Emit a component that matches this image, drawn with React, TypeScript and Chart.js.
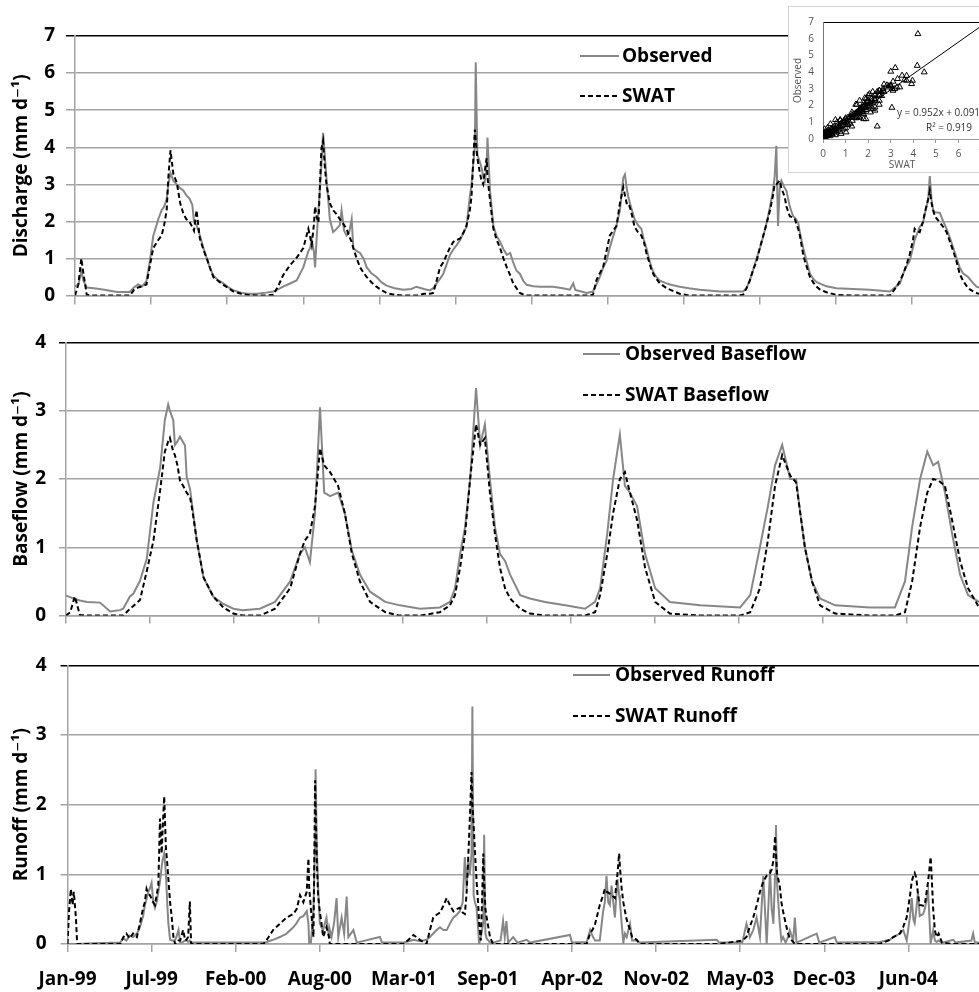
import React, { useEffect, useRef } from 'react';
import { Chart, registerables } from 'chart.js';
Chart.register(...registerables);

const FONT = '"Open Sans", "DejaVu Sans", sans-serif';
const OBS_COLOR = '#878787';
const SWAT_COLOR = '#000000';
const GRID = '#a3a3a3';

// ---------- Discharge (top panel), days since 1 Jan 1999 ----------
const Q_DAYS = [0,8,15,20,28,45,70,100,130,140,150,160,170,178,186,198,206,212,218,222,227,234,242,250,258,265,272,279,283,289,297,305,313,321,329,340,353,365,377,395,410,432,455,472,485,495,510,527,543,555,559,563,568,571,575,579,586,590,594,598,606,614,622,630,634,640,646,652,658,662,670,678,686,694,705,717,730,741,760,781,800,812,830,844,852,860,868,876,884,892,900,908,916,924,931,939,943,947,951,953,957,963,967,971,975,979,981,987,995,1003,1011,1019,1027,1035,1042,1050,1058,1066,1074,1090,1106,1137,1160,1177,1185,1190,1217,1232,1240,1248,1256,1264,1272,1280,1288,1296,1304,1308,1312,1316,1322,1331,1339,1347,1353,1359,1365,1371,1377,1383,1391,1407,1415,1438,1460,1486,1534,1570,1589,1597,1605,1613,1621,1629,1637,1645,1653,1660,1664,1668,1672,1676,1680,1688,1692,1700,1708,1712,1720,1724,1732,1736,1748,1756,1764,1771,1787,1811,1850,1890,1938,1954,1962,1970,1978,1985,1993,1997,2001,2009,2017,2021,2029,2033,2037,2041,2045,2057,2065,2073,2081,2089,2097,2104,2112,2124,2135,2144,2155];
const Q_OBS = [0.25,0.3,0.65,0.4,0.22,0.2,0.16,0.1,0.1,0.22,0.3,0.25,0.4,0.93,1.6,2.06,2.3,2.4,2.6,3.0,3.3,3.1,3.0,2.9,2.83,2.7,2.62,2.45,2.0,1.9,1.62,1.3,1.02,0.75,0.54,0.42,0.33,0.22,0.14,0.08,0.05,0.05,0.08,0.11,0.18,0.24,0.32,0.41,0.76,1.2,1.28,1.5,1.2,0.76,1.6,2.3,3.5,4.39,3.8,3.18,2.06,1.71,1.8,1.9,2.3,1.75,1.62,1.7,2.06,1.28,1.2,1.15,1.0,0.76,0.6,0.5,0.35,0.27,0.2,0.16,0.18,0.24,0.18,0.14,0.2,0.33,0.45,0.59,0.85,1.1,1.25,1.37,1.5,1.7,1.85,2.66,3.0,3.53,4.0,6.29,3.79,3.6,3.44,3.2,3.1,3.5,4.26,2.83,1.88,1.6,1.45,1.25,1.1,1.15,0.9,0.67,0.59,0.4,0.29,0.25,0.24,0.24,0.2,0.16,0.33,0.15,0.07,0.11,0.3,0.5,0.75,0.93,1.3,1.6,1.9,2.3,3.18,3.27,2.9,2.66,2.4,2.06,1.9,1.8,1.5,1.28,1.0,0.76,0.6,0.5,0.4,0.33,0.3,0.24,0.2,0.16,0.11,0.11,0.11,0.2,0.41,0.7,1.0,1.28,1.6,1.97,2.4,2.83,3.2,4.04,1.88,2.9,3.1,2.9,2.83,2.4,2.14,2.1,1.97,1.7,1.28,1.1,0.59,0.45,0.36,0.33,0.25,0.2,0.18,0.16,0.11,0.25,0.33,0.6,0.8,0.93,1.3,1.5,1.62,1.85,1.97,2.2,2.58,3.22,2.6,2.3,2.25,2.23,2.0,1.8,1.55,1.28,1.0,0.76,0.6,0.5,0.35,0.24,0.2];
const Q_SWAT = [0,0.3,1.0,0.6,0.02,0,0,0,0,0.15,0.22,0.25,0.3,0.8,1.28,1.5,1.62,1.9,2.3,3.18,3.92,3.27,3.05,2.5,2.2,2.06,2.0,1.85,1.75,2.3,1.54,1.25,1.02,0.75,0.5,0.4,0.29,0.2,0.11,0.05,0.02,0,0,0.02,0.3,0.55,0.8,1.02,1.28,1.8,1.6,1.37,1.9,2.4,2.1,1.97,3.96,4.17,3.5,3.0,2.49,2.3,2.2,2.06,2.0,1.9,1.8,1.6,1.45,1.28,1.0,0.76,0.62,0.5,0.36,0.24,0.14,0.07,0.02,0,0,0,0.05,0.05,0.07,0.4,0.76,0.9,1.1,1.3,1.45,1.5,1.54,1.7,1.88,2.3,2.66,3.6,4.48,4.2,3.7,3.3,3.1,3.0,3.4,3.7,3.2,2.58,1.8,1.5,1.28,1.0,0.76,0.55,0.33,0.2,0.07,0.03,0,0,0,0,0,0,0,0,0,0.02,0.41,0.6,0.76,1.2,1.62,1.75,1.88,2.49,2.92,2.7,2.49,2.5,2.3,1.85,1.71,1.62,1.45,1.15,0.93,0.7,0.55,0.45,0.33,0.2,0.16,0.05,0,0,0,0,0.02,0.2,0.41,0.7,0.93,1.3,1.62,1.95,2.3,2.7,3.0,3.0,3.05,3.1,2.9,2.66,2.4,2.14,2.1,2.06,1.8,1.62,1.1,0.93,0.5,0.35,0.24,0.17,0.09,0.02,0,0,0,0.24,0.4,0.59,0.85,1.1,1.5,1.8,1.75,1.71,2.0,2.23,2.6,2.83,2.5,2.3,2.14,1.97,1.85,1.71,1.45,1.19,0.9,0.59,0.4,0.2,0.12,0.07,0.03];

// ---------- Baseflow (middle panel) ----------
const BF_DAYS = [0,10,21,33,50,81,105,128,136,152,160,176,192,208,224,235,243,247,255,259,265,271,283,287,295,299,311,327,350,374,398,420,461,497,533,556,568,580,592,604,614,628,647,663,680,699,723,759,794,842,889,913,925,937,949,961,975,985,996,1008,1020,1032,1044,1056,1080,1103,1139,1187,1234,1258,1270,1287,1301,1317,1329,1341,1358,1377,1401,1436,1508,1603,1627,1650,1669,1686,1703,1722,1736,1746,1757,1774,1793,1829,1912,1971,1995,2012,2031,2048,2062,2074,2090,2107,2126,2145,2171];
const BF_OBS = [0.29,0.27,0.24,0.22,0.2,0.19,0.06,0.08,0.1,0.28,0.32,0.51,0.83,1.66,2.17,2.86,3.09,3.0,2.86,2.5,2.55,2.62,2.49,2.03,1.85,1.66,1.1,0.56,0.28,0.17,0.1,0.08,0.1,0.2,0.5,0.9,1.0,0.78,1.5,3.05,1.8,1.75,1.8,1.5,0.95,0.6,0.35,0.2,0.15,0.1,0.12,0.2,0.4,0.9,1.3,2.0,3.33,2.5,2.8,2.0,1.3,0.9,0.8,0.6,0.3,0.25,0.2,0.15,0.1,0.2,0.4,1.2,2.0,2.65,1.9,1.8,1.6,0.9,0.4,0.2,0.15,0.12,0.3,1.0,1.6,2.2,2.5,2.0,2.0,1.5,1.0,0.5,0.25,0.15,0.12,0.12,0.5,1.3,2.0,2.4,2.2,2.25,1.8,1.2,0.6,0.3,0.2];
const BF_SWAT = [0,0.05,0.28,0.01,0,0,0,0,0,0.1,0.14,0.23,0.65,1.1,1.84,2.4,2.55,2.6,2.4,2.35,2.2,1.98,1.85,1.8,1.73,1.6,1.1,0.56,0.28,0.12,0.03,0,0,0.1,0.4,0.9,1.1,1.2,1.6,2.45,2.2,2.1,1.9,1.5,0.9,0.5,0.2,0.05,0,0,0.05,0.15,0.3,0.7,1.2,2.0,2.8,2.5,2.6,1.8,1.2,0.7,0.4,0.25,0.1,0.03,0,0,0,0.05,0.3,0.9,1.5,2.0,2.1,1.8,1.4,0.7,0.2,0.03,0,0,0.05,0.4,1.1,1.9,2.35,2.05,1.95,1.5,1.0,0.5,0.15,0.03,0,0,0.05,0.5,1.3,1.8,2.0,1.98,1.9,1.4,0.8,0.4,0.12];

// ---------- Runoff (bottom panel) ----------
const RO_DAYS = [0,4,8,12,15,20,23,60,125,133,140,148,156,165,172,180,184,188,192,196,200,204,208,212,216,220,224,226,230,234,238,240,244,248,252,256,259,264,268,275,280,283,287,291,294,300,400,466,474,489,505,521,537,545,553,561,569,573,575,579,585,589,590,593,596,600,604,608,616,622,624,628,634,640,644,652,658,664,668,680,688,743,748,799,811,823,838,854,862,870,878,886,894,902,910,918,926,933,940,945,949,953,957,961,963,966,969,973,977,979,983,986,989,991,994,997,1005,1012,1030,1036,1040,1044,1048,1060,1070,1092,1100,1195,1200,1235,1243,1250,1255,1266,1274,1278,1282,1286,1290,1294,1302,1308,1312,1314,1318,1322,1326,1330,1338,1343,1354,1361,1544,1550,1605,1615,1623,1631,1639,1647,1655,1663,1671,1675,1679,1683,1685,1688,1694,1698,1702,1708,1714,1718,1726,1730,1734,1782,1788,1825,1830,1932,1956,1964,1980,1988,1996,2004,2008,2012,2015,2019,2023,2027,2035,2039,2047,2053,2056,2059,2063,2067,2072,2080,2107,2112,2150,2154,2158,2170];
const RO_OBS = [0,0,0,0,0,0,0,0.01,0.02,0.08,0.05,0.12,0.1,0.15,0.24,0.4,0.56,0.65,0.75,0.8,0.88,0.6,0.52,0.6,0.75,0.9,1.11,1.2,1.3,1.02,0.5,0.29,0.06,0.05,0.05,0.06,0.1,0.2,0.02,0.03,0.05,0.05,0.03,0.05,0.02,0.02,0.02,0.02,0.03,0.06,0.1,0.15,0.24,0.3,0.38,0.4,0.47,0.3,0,0.02,0.5,1.5,2.51,1.4,0.84,0.3,0.24,0.2,0.38,0.1,0.2,0.1,0.3,0.66,0.1,0.38,0.15,0.68,0.1,0.2,0.02,0.1,0.02,0.02,0.04,0.06,0.04,0.06,0.1,0.15,0.2,0.24,0.2,0.2,0.3,0.38,0.42,0.47,0.6,1.25,0.8,1.21,1.0,1.3,3.41,0.7,0.6,0.52,0.2,0,0.1,0.2,0.3,1.57,0.15,0.08,0.02,0.02,0.05,0.33,0.1,0.33,0.02,0.1,0.02,0.06,0.02,0.13,0.02,0.03,0.2,0.1,0.05,0.05,0.47,0.6,0.98,0.6,0.56,0.84,0.38,0.93,0.7,0.61,0.3,0.02,0.15,0.1,0.29,0.05,0.05,0.02,0.06,0.02,0.02,0.29,0.1,0.2,0.38,0.1,0.98,0,1.07,0.5,0.29,1.0,1.71,0.84,0.3,0.05,0.1,0.02,0.1,0.2,0.05,0.38,0.02,0.15,0.02,0.1,0.02,0.03,0.06,0.1,0.15,0.2,0.05,0.4,0.66,0.35,0.3,0.5,0.75,0.4,0.43,0.5,0.75,0.02,0.1,0.2,0.05,0.03,0.05,0.02,0.06,0.02,0.05,0.15,0.02,0.02];
const RO_SWAT = [0,0.5,0.79,0.56,0.75,0.38,0,0,0,0.1,0.15,0.08,0.15,0.1,0.29,0.52,0.6,0.79,0.72,0.7,0.65,0.6,0.56,0.7,0.84,1.8,1.3,1.6,2.12,1.39,1.1,0.93,0.6,0.38,0.1,0,0,0.05,0.05,0.2,0.05,0.06,0.1,0.61,0,0,0,0,0.06,0.2,0.29,0.38,0.43,0.5,0.7,0.6,0.75,1.23,0.8,0.5,0.1,2.35,2.0,1.2,0.7,0.47,0.3,0.1,0.24,0.1,0,0,0,0,0,0,0,0,0,0,0,0,0,0,0.06,0.13,0.06,0,0.2,0.38,0.42,0.45,0.55,0.66,0.55,0.47,0.5,0.52,0.45,0.43,0.7,1.21,1.8,2.47,2.0,1.7,1.34,0.9,0.56,0.3,0.05,0.6,1.3,0.9,0.5,0.38,0.1,0,0,0,0,0,0,0,0,0,0,0,0,0,0.15,0.22,0.29,0.56,0.7,0.79,0.75,0.74,0.72,0.7,0.66,1.0,1.3,1.1,0.8,0.6,0.47,0.35,0.2,0.1,0.06,0,0,0,0.05,0.1,0.25,0.38,0.55,0.75,0.9,0.98,1.02,1.07,1.2,1.55,1.3,1.0,0.84,0.6,0.47,0.3,0.15,0.08,0.03,0,0,0,0,0,0,0,0.06,0.1,0.15,0.25,0.38,0.7,0.9,0.98,1.02,0.95,0.7,0.56,0.55,0.56,0.9,1.25,0.9,0.5,0.2,0.1,0.15,0.02,0,0,0,0,0,0];

// ---------- Axis ticks ----------
const TOP_TICK_DAYS = [0,181,362,543,724,905,1086,1267,1448,1629,1810,1991];
const TICK_DAYS = [0,200,400,600,800,1000,1200,1400,1600,1800,2000];
const TICK_LABELS = ['Jan-99','Jul-99','Feb-00','Aug-00','Mar-01','Sep-01','Apr-02','Nov-02','May-03','Dec-03','Jun-04'];

// ---------- Inset regression ----------
const REG_SLOPE = 0.952;
const REG_INTERCEPT = 0.091;
const REG_R2 = 0.919;
const INSET_MAX = 7;

const legendPlugin = {
  id: 'inlineLegend',
  afterDraw(chart: any, _args: any, opts: any) {
    if (!opts || !opts.rows) return;
    const ctx = chart.ctx;
    ctx.save();
    chart.data.datasets.forEach((ds: any, i: number) => {
      const y = opts.rows[i];
      ctx.strokeStyle = ds.borderColor;
      ctx.lineWidth = ds.borderWidth;
      ctx.setLineDash(ds.borderDash || []);
      ctx.beginPath();
      ctx.moveTo(opts.x0, y);
      ctx.lineTo(opts.x1, y);
      ctx.stroke();
      ctx.setLineDash([]);
      ctx.fillStyle = '#000';
      ctx.font = `bold ${opts.size}px ${FONT}`;
      ctx.textBaseline = 'middle';
      ctx.textAlign = 'left';
      ctx.fillText(ds.label, opts.textX, y + 1);
    });
    ctx.restore();
  },
};

const textPlugin = {
  id: 'insetText',
  afterDraw(chart: any, _args: any, opts: any) {
    if (!opts || !opts.lines) return;
    const ctx = chart.ctx;
    ctx.save();
    ctx.fillStyle = '#333';
    ctx.font = `${opts.size}px ${FONT}`;
    ctx.textBaseline = 'middle';
    ctx.textAlign = 'left';
    opts.lines.forEach((l: any) => ctx.fillText(l.text, l.x, l.y));
    ctx.restore();
  },
};

interface Panel {
  days: number[]; obs: number[]; swat: number[];
  obsLabel: string; swatLabel: string; yTitle: string;
  yMax: number; xMax: number;
  left: number; padTop: number; xAxisH: number;
  xTicks: number[]; xLabels: string[] | null;
  xTickLen: number; yTickLen: number; yPad: number;
  legend: any;
}

function panelConfig(p: Panel): any {
  const pts = (vals: number[]) => p.days.map((d, i) => ({ x: d, y: vals[i] }));
  return {
    type: 'line',
    data: {
      datasets: [
        { label: p.obsLabel, data: pts(p.obs), borderColor: OBS_COLOR, borderWidth: 2, pointRadius: 0, tension: 0, order: 1 },
        { label: p.swatLabel, data: pts(p.swat), borderColor: SWAT_COLOR, borderWidth: 2, borderDash: [5, 3], pointRadius: 0, tension: 0, order: 0 },
      ],
    },
    options: {
      responsive: false,
      animation: false,
      events: [],
      layout: { padding: { top: p.padTop, right: 0, left: 0, bottom: 0 } },
      plugins: { legend: { display: false }, tooltip: { enabled: false }, inlineLegend: p.legend },
      scales: {
        x: {
          type: 'linear', min: 0, max: p.xMax,
          afterBuildTicks: (s: any) => { s.ticks = p.xTicks.map((v) => ({ value: v })); },
          afterFit: (s: any) => { s.height = p.xAxisH; },
          grid: { drawOnChartArea: false, drawTicks: true, tickLength: p.xTickLen, color: GRID, lineWidth: 1.5 },
          border: { display: true, color: GRID, width: 1.5 },
          ticks: {
            display: !!p.xLabels, autoSkip: false, maxRotation: 0, minRotation: 0, padding: 16,
            color: '#000', font: { family: FONT, size: 19, weight: 'bold' },
            callback: (_v: any, i: number) => (p.xLabels ? p.xLabels[i] : ''),
          },
        },
        y: {
          min: 0, max: p.yMax,
          afterFit: (s: any) => { s.width = p.left; },
          ticks: { stepSize: 1, padding: p.yPad, color: '#000', font: { family: FONT, size: 19, weight: 'bold' } },
          grid: {
            color: (c: any) => (c.tick && c.tick.value === p.yMax ? '#000' : GRID),
            lineWidth: 1.5, tickLength: p.yTickLen,
          },
          border: { display: true, color: GRID, width: 1.5 },
          title: {
            display: true, text: p.yTitle, color: '#000',
            font: { family: FONT, size: 19, weight: 'bold' }, padding: { top: 10, bottom: 0 },
          },
        },
      },
    },
    plugins: [legendPlugin],
  };
}

function insetConfig(): any {
  const pts = Q_SWAT.map((s, i) => ({ x: s, y: Q_OBS[i] }));
  const line = [
    { x: 0, y: REG_INTERCEPT },
    { x: INSET_MAX, y: REG_SLOPE * INSET_MAX + REG_INTERCEPT },
  ];
  const small = { family: FONT, size: 10 };
  return {
    type: 'scatter',
    data: {
      datasets: [
        { data: pts, pointStyle: 'triangle', pointRadius: 3.4, borderColor: '#000', borderWidth: 1, backgroundColor: 'rgba(0,0,0,0)' },
        { type: 'line', data: line, borderColor: '#000', borderWidth: 1, pointRadius: 0, showLine: true },
      ],
    },
    options: {
      responsive: false,
      animation: false,
      events: [],
      layout: { padding: { top: 11, right: 7, left: 0, bottom: 0 } },
      plugins: {
        legend: { display: false }, tooltip: { enabled: false },
        insetText: {
          size: 10,
          lines: [
            { text: `y = ${REG_SLOPE}x + ${REG_INTERCEPT}`, x: 108, y: 106 },
            { text: `R² = ${REG_R2}`, x: 137, y: 121 },
          ],
        },
      },
      scales: {
        x: {
          type: 'linear', min: 0, max: INSET_MAX,
          afterFit: (s: any) => { s.height = 33; },
          ticks: { stepSize: 1, padding: 5, color: '#555', font: small },
          grid: { drawOnChartArea: false, tickLength: 4, color: '#999' },
          border: { display: true, color: '#999' },
          title: { display: true, text: 'SWAT', color: '#555', font: small, padding: { top: 0, bottom: 1 } },
        },
        y: {
          min: 0, max: INSET_MAX,
          afterFit: (s: any) => { s.width = 34; },
          ticks: { stepSize: 1, padding: 9, color: '#555', font: small },
          grid: { drawTicks: false, color: (c: any) => (c.tick && c.tick.value === INSET_MAX ? '#000' : 'rgba(0,0,0,0)') },
          border: { display: true, color: '#777' },
          title: { display: true, text: 'Observed', color: '#555', font: small, padding: { top: 3, bottom: 0 } },
        },
      },
    },
    plugins: [textPlugin],
  };
}

const PANELS: { top: number; height: number; spec: Panel }[] = [
  {
    top: 0, height: 318,
    spec: {
      days: Q_DAYS, obs: Q_OBS, swat: Q_SWAT, obsLabel: 'Observed', swatLabel: 'SWAT',
      yTitle: 'Discharge (mm d⁻¹)', yMax: 7, xMax: 2150, left: 75, padTop: 36, xAxisH: 12,
      xTicks: TOP_TICK_DAYS, xLabels: null, xTickLen: 9, yTickLen: 9, yPad: 11,
      legend: { x0: 580, x1: 619, textX: 622, rows: [56, 96], size: 19 },
    },
  },
  {
    top: 318, height: 322,
    spec: {
      days: BF_DAYS, obs: BF_OBS, swat: BF_SWAT, obsLabel: 'Observed Baseflow', swatLabel: 'SWAT Baseflow',
      yTitle: 'Baseflow (mm d⁻¹)', yMax: 4, xMax: 2171, left: 66, padTop: 19, xAxisH: 13,
      xTicks: TICK_DAYS, xLabels: null, xTickLen: 8, yTickLen: 7, yPad: 13,
      legend: { x0: 583, x1: 620, textX: 625, rows: [36, 77], size: 19 },
    },
  },
  {
    top: 640, height: 352,
    spec: {
      days: RO_DAYS, obs: RO_OBS, swat: RO_SWAT, obsLabel: 'Observed Runoff', swatLabel: 'SWAT Runoff',
      yTitle: 'Runoff (mm d⁻¹)', yMax: 4, xMax: 2168, left: 67.5, padTop: 13, xAxisH: 48,
      xTicks: TICK_DAYS, xLabels: TICK_LABELS, xTickLen: 8, yTickLen: 7, yPad: 14,
      legend: { x0: 573, x1: 610, textX: 615, rows: [35, 76], size: 19 },
    },
  },
];

export default function App() {
  const refs = [useRef<HTMLCanvasElement>(null), useRef<HTMLCanvasElement>(null), useRef<HTMLCanvasElement>(null)];
  const insetRef = useRef<HTMLCanvasElement>(null);

  useEffect(() => {
    const charts: Chart[] = [];
    PANELS.forEach((p, i) => {
      const c = refs[i].current;
      if (c) charts.push(new Chart(c, panelConfig(p.spec)));
    });
    if (insetRef.current) charts.push(new Chart(insetRef.current, insetConfig()));
    return () => charts.forEach((c) => c.destroy());
  }, []);

  return (
    <div style={{ position: 'fixed', left: 0, top: 0, width: 979, height: 992, overflow: 'hidden', background: '#fff' }}>
      {PANELS.map((p, i) => (
        <canvas
          key={i}
          ref={refs[i]}
          width={979}
          height={p.height}
          style={{ position: 'absolute', left: 0, top: p.top, width: 979, height: p.height }}
        />
      ))}
      <div
        style={{
          position: 'absolute', left: 788, top: 6, width: 200, height: 165,
          border: '1px solid #d4d4d4', background: '#fff',
        }}
      >
        <canvas ref={insetRef} width={200} height={165} style={{ display: 'block', width: 200, height: 165 }} />
      </div>
    </div>
  );
}
